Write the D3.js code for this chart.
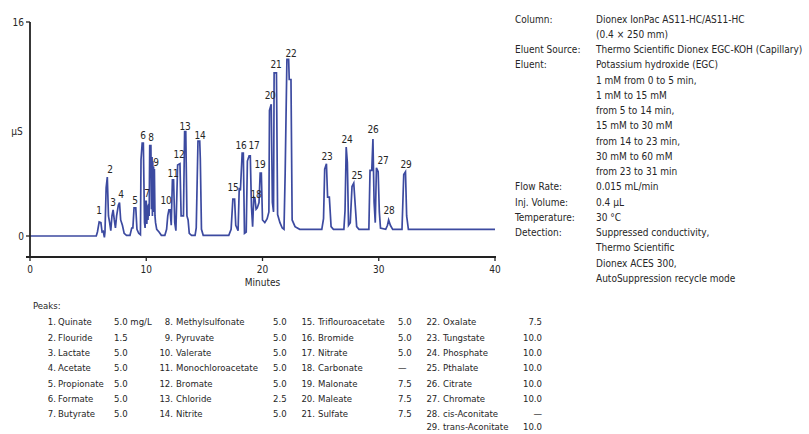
<!DOCTYPE html>
<html><head><meta charset="utf-8">
<script src="https://cdn.jsdelivr.net/npm/d3@7"></script>
<style>
body{margin:0;background:#fff;}
text{font-family:"Liberation Sans Narrow","DejaVu Sans Condensed","Arial Narrow",sans-serif;fill:#262626;}
</style></head>
<body>
<svg id="c" width="809" height="434"></svg>
<script>
// ---- data ----
const traceTime = [0,5.7,5.8,5.95,6.1,6.2,6.3,6.4,6.45,6.55,6.65,6.75,6.85,6.95,7.05,7.15,7.25,7.35,7.45,7.6,7.7,7.8,7.95,8.1,8.3,8.6,8.75,8.85,8.95,9.1,9.2,9.35,9.5,9.55,9.65,9.75,9.85,9.9,9.95,10.0,10.05,10.1,10.15,10.2,10.25,10.3,10.4,10.45,10.5,10.53,10.56,10.6,10.63,10.66,10.7,10.75,10.8,10.9,11.1,11.3,11.6,11.75,11.85,11.95,12.05,12.15,12.25,12.35,12.45,12.55,12.7,12.9,13.0,13.2,13.3,13.4,13.5,13.6,13.7,13.9,14.2,14.3,14.45,14.6,14.65,14.75,14.9,17.1,17.3,17.45,17.6,17.7,17.9,18.0,18.1,18.25,18.35,18.45,18.6,18.7,18.85,18.95,19.05,19.15,19.25,19.35,19.45,19.55,19.7,19.8,19.9,20.0,20.2,20.4,20.55,20.6,20.75,20.85,20.95,21.0,21.2,21.3,21.5,21.7,21.85,21.95,22.1,22.25,22.3,22.45,22.55,22.8,23.2,25.1,25.25,25.35,25.5,25.6,25.75,25.9,26.1,27.0,27.1,27.2,27.3,27.4,27.55,27.7,27.85,28.0,28.1,28.3,29.15,29.25,29.4,29.5,29.6,29.7,29.8,29.95,30.05,30.15,30.6,30.75,30.85,31.0,31.2,32.0,32.15,32.3,32.4,32.55,40];
const traceValue = [0,0,0.3,1.05,1.0,0.3,0.35,-0.1,0.3,3.6,4.4,1.5,1.0,0.4,1.5,1.95,1.2,0.6,1.5,2.3,2.5,1.2,0.8,0.2,0.05,0.05,0.6,0.6,2.1,2.1,0.5,0.2,0.1,5.7,6.95,6.95,1.0,0.6,2.6,2.6,0.9,2.3,1.2,2.4,1.5,6.75,6.75,2.0,5.9,1.5,5.6,2.0,5.2,1.8,5.0,1.5,1.0,0.5,0.3,0.05,0.05,0.5,1.5,1.95,1.95,0.8,4.2,4.2,1.0,0.4,5.3,5.4,1.5,1.5,7.8,7.8,1.5,1.2,0.2,0.05,0.05,0.6,7.1,7.1,5.8,0.5,0.05,0.05,0.5,2.75,2.75,0.8,0.4,3.6,3.4,6.2,6.2,0.2,0.3,5.6,6.0,6.0,2.2,0.7,2.9,2.8,2.0,2.1,2.5,4.7,4.7,1.2,1.0,1.3,1.8,9.4,9.85,2.5,1.8,12.2,12.2,1.6,1.0,0.6,0.5,4.7,13.2,13.2,11.7,11.7,1.2,0.7,0.5,0.5,1.3,5.0,5.4,2.9,2.9,0.7,0.5,0.5,1.9,6.65,5.5,0.8,1.0,3.7,3.95,2.0,0.7,0.5,0.5,4.9,4.9,7.25,2.5,1.0,5.1,4.8,1.8,0.6,0.5,0.8,1.2,0.8,0.5,0.5,4.6,4.8,1.5,0.5,0.5];

const peakIds = ["1","2","3","4","5","6","7","8","9","10","11","12","13","14","15","16","17","18","19","20","21","22","23","24","25","26","27","28","29"];
const peakLabelTime = [5.94,6.88,7.14,7.83,9.03,9.72,10.06,10.41,10.84,11.70,12.30,12.82,13.33,14.62,17.46,18.15,19.27,19.44,19.78,20.65,21.16,22.45,25.55,27.27,28.13,29.51,30.37,30.88,32.34];
const peakLabelValue = [1.94,5.0,2.54,3.07,2.69,7.48,3.21,7.33,5.46,2.69,4.71,6.13,8.15,7.48,3.59,6.73,6.73,3.07,5.38,10.47,12.79,13.68,5.91,7.18,4.49,7.93,5.61,1.87,5.31];

const xTicks = [0,10,20,30,40];
const yTicks = [0,16];
const yLabel = "µS";
const xLabel = "Minutes";

const peakNames = ["Quinate","Flouride","Lactate","Acetate","Propionate","Formate","Butyrate",
 "Methylsulfonate","Pyruvate","Valerate","Monochloroacetate","Bromate","Chloride","Nitrite",
 "Triflouroacetate","Bromide","Nitrate","Carbonate","Malonate","Maleate","Sulfate",
 "Oxalate","Tungstate","Phosphate","Pthalate","Citrate","Chromate","cis-Aconitate","trans-Aconitate"];
const peakConc = ["5.0 mg/L","1.5","5.0","5.0","5.0","5.0","5.0",
 "5.0","5.0","5.0","5.0","5.0","2.5","5.0",
 "5.0","5.0","5.0","—","7.5","7.5","7.5",
 "7.5","10.0","10.0","10.0","10.0","10.0","—","10.0"];

const infoKeys = ["Column:","","Eluent Source:","Eluent:","","","","","","","","Flow Rate:","Inj. Volume:","Temperature:","Detection:","","",""];
const infoValues = ["Dionex IonPac AS11-HC/AS11-HC","(0.4 × 250 mm)","Thermo Scientific Dionex EGC-KOH (Capillary)","Potassium hydroxide (EGC)","1 mM from 0 to 5 min,","1 mM to 15 mM","from 5 to 14 min,","15 mM to 30 mM","from 14 to 23 min,","30 mM to 60 mM","from 23 to 31 min","0.015 mL/min","0.4 µL","30 °C","Suppressed conductivity,","Thermo Scientific","Dionex ACES 300,","AutoSuppression recycle mode"];

// ---- drawing ----
const svg = d3.select("#c");
const x = d3.scaleLinear().domain([0,40]).range([30,495]);
const y = d3.scaleLinear().domain([0,16]).range([236,22]);
const axisColor = "#222";

// trace
const pts = traceTime.map((t,i)=>[t,traceValue[i]]);
svg.append("path").datum(pts)
  .attr("d", d3.line().x(d=>x(d[0])).y(d=>y(d[1])))
  .attr("fill","none").attr("stroke","#3c4aa0").attr("stroke-width",1.7).attr("stroke-linejoin","miter");

// y axis
svg.append("line").attr("x1",30).attr("x2",30).attr("y1",y(16)).attr("y2",257)
  .attr("stroke",axisColor).attr("stroke-width",1.8);
yTicks.forEach(v=>{
  svg.append("line").attr("x1",26).attr("x2",30).attr("y1",y(v)).attr("y2",y(v)).attr("stroke",axisColor).attr("stroke-width",1.3);
  svg.append("text").attr("x",24).attr("y",y(v)).attr("dy","0.35em").attr("text-anchor","end")
    .attr("font-size",10).text(v);
});
svg.append("text").attr("x",17).attr("y",131).attr("dy","0.35em").attr("text-anchor","middle").attr("font-size",10).text(yLabel);

// x axis
svg.append("line").attr("x1",26).attr("x2",x(40)+1).attr("y1",257).attr("y2",257)
  .attr("stroke",axisColor).attr("stroke-width",1.8);
xTicks.forEach(v=>{
  svg.append("line").attr("x1",x(v)).attr("x2",x(v)).attr("y1",257).attr("y2",261).attr("stroke",axisColor).attr("stroke-width",1.3);
  svg.append("text").attr("x",x(v)).attr("y",269).attr("dy","0.35em").attr("text-anchor","middle")
    .attr("font-size",10).text(v);
});
svg.append("text").attr("x",x(20)).attr("y",282).attr("dy","0.35em").attr("text-anchor","middle").attr("font-size",10).text(xLabel);

// peak labels
peakIds.forEach((id,i)=>{
  svg.append("text").attr("x",x(peakLabelTime[i])).attr("y",y(peakLabelValue[i])).attr("dy","0.35em")
    .attr("text-anchor","middle").attr("font-size",10).attr("letter-spacing","-0.3").text(id);
});

// info block
infoValues.forEach((v,i)=>{
  const yy = 19 + i*15.25;
  if (infoKeys[i]) svg.append("text").attr("x",515).attr("y",yy).attr("dy","0.35em").attr("font-size",10).text(infoKeys[i]);
  svg.append("text").attr("x",596).attr("y",yy).attr("dy","0.35em").attr("font-size",10).text(v);
});

// peaks table
svg.append("text").attr("x",33).attr("y",306).attr("dy","0.35em").attr("font-size",9.5).text("Peaks:");
const cols = [
  {start:0,end:7,numX:56,nameX:58,concX:114,anchor:"start"},
  {start:7,end:14,numX:173,nameX:176,concX:273,anchor:"start"},
  {start:14,end:21,numX:315,nameX:318,concX:398,anchor:"start"},
  {start:21,end:29,numX:440,nameX:443,concX:542,anchor:"end"}
];
cols.forEach(c=>{
  for(let i=c.start;i<c.end;i++){
    const r = i-c.start;
    const yy = (r===7) ? 427 : 322 + r*15.3;
    svg.append("text").attr("x",c.numX).attr("y",yy).attr("dy","0.35em").attr("text-anchor","end").attr("font-size",9.5).text(peakIds[i]+".");
    svg.append("text").attr("x",c.nameX).attr("y",yy).attr("dy","0.35em").attr("font-size",9.5).text(peakNames[i]);
    svg.append("text").attr("x",c.concX).attr("y",yy).attr("dy","0.35em").attr("text-anchor",c.anchor).attr("font-size",9.5).text(peakConc[i]);
  }
});
</script>
</body></html>
